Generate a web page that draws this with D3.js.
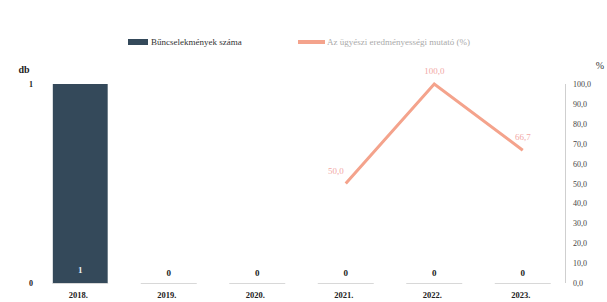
<!DOCTYPE html>
<html>
<head>
<meta charset="utf-8">
<script src="https://cdn.jsdelivr.net/npm/d3@7"></script>
<style>
  body { margin: 0; background: #fff; }
  text { font-family: "Liberation Serif", "DejaVu Serif", serif; }
</style>
</head>
<body>
<svg class="chart"></svg>
<script>
const years = ["2018.", "2019.", "2020.", "2021.", "2022.", "2023."];
const crimes = [1, 0, 0, 0, 0, 0];
const ratio = [null, null, null, 50.0, 100.0, 66.7];
const leftTicks = [0, 1];
const rightTicks = [0, 10, 20, 30, 40, 50, 60, 70, 80, 90, 100];
const legendLabels = ["Bűncselekmények száma", "Az ügyészi eredményességi mutató (%)"];

const width = 607, height = 302;
const barColor = "#34495a", lineColor = "#f4a38c";

let chart = d3.select(".chart")
  .attr("width", width)
  .attr("height", height);

let x = d3.scaleBand()
  .domain(years)
  .range([36, 567])
  .paddingInner(0.38)
  .paddingOuter(0.19);

let yLeft = d3.scaleLinear().domain([0, 1]).range([283, 84]);
let yRight = d3.scaleLinear().domain([0, 100]).range([283, 84]);

// baseline segments
chart.append("g").selectAll("line")
  .data(years)
  .enter().append("line")
  .attr("x1", d => x(d) + x.bandwidth() / 2 - 28)
  .attr("x2", d => x(d) + x.bandwidth() / 2 + 28)
  .attr("y1", 283.5).attr("y2", 283.5)
  .attr("stroke", "#d8d8d8");

// right axis line
chart.append("line")
  .attr("x1", 565.5).attr("x2", 565.5)
  .attr("y1", yRight(100)).attr("y2", yRight(0))
  .attr("stroke", "#cfcfcf");

// bars
chart.append("g").selectAll("rect")
  .data(crimes)
  .enter().append("rect")
  .attr("x", (d, i) => x(years[i]))
  .attr("width", x.bandwidth())
  .attr("y", d => yLeft(d))
  .attr("height", d => yLeft(0) - yLeft(d))
  .attr("fill", barColor);

// bar value labels
chart.append("g").selectAll("text")
  .data(crimes)
  .enter().append("text")
  .attr("x", (d, i) => x(years[i]) + x.bandwidth() / 2)
  .attr("y", d => d > 0 ? yLeft(0) - 10 : yLeft(0) - 7)
  .attr("text-anchor", "middle")
  .attr("font-size", 9)
  .attr("font-weight", "bold")
  .attr("fill", d => d > 0 ? "#e8eef2" : "#222")
  .text(d => d);

// line
let line = d3.line()
  .defined(d => d != null)
  .x((d, i) => x(years[i]) + x.bandwidth() / 2)
  .y(d => yRight(d));

chart.append("path")
  .datum(ratio)
  .attr("d", line)
  .attr("fill", "none")
  .attr("stroke", lineColor)
  .attr("stroke-width", 3);

chart.append("g").selectAll("text")
  .data(ratio.map((v, i) => ({v, i})).filter(d => d.v != null))
  .enter().append("text")
  .attr("x", d => x(years[d.i]) + x.bandwidth() / 2 + (d.i === 3 ? -10 : 0))
  .attr("y", d => yRight(d.v) - 10)
  .attr("text-anchor", "middle")
  .attr("font-size", 9)
  .attr("fill", "#f2a9a6")
  .text(d => d3.format(".1f")(d.v).replace(".", ","));

// left axis
chart.append("g").selectAll("text")
  .data(leftTicks)
  .enter().append("text")
  .attr("x", 31)
  .attr("y", d => yLeft(d) + 3)
  .attr("text-anchor", "middle")
  .attr("font-size", 8)
  .attr("font-weight", "bold")
  .attr("fill", "#222")
  .text(d => d);

chart.append("text")
  .attr("x", 24).attr("y", 73)
  .attr("text-anchor", "middle")
  .attr("font-size", 10)
  .attr("font-weight", "bold")
  .attr("fill", "#222")
  .text("db");

// right axis
chart.append("g").selectAll("text")
  .data(rightTicks)
  .enter().append("text")
  .attr("x", 573)
  .attr("y", d => yRight(d) + 3)
  .attr("font-size", 8)
  .attr("fill", "#444")
  .text(d => d3.format(".1f")(d).replace(".", ","));

chart.append("text")
  .attr("x", 600).attr("y", 69)
  .attr("text-anchor", "middle")
  .attr("font-size", 10)
  .attr("fill", "#333")
  .text("%");

// x axis labels
chart.append("g").selectAll("text")
  .data(years)
  .enter().append("text")
  .attr("x", d => x(d) + x.bandwidth() / 2 - 2)
  .attr("y", 298)
  .attr("text-anchor", "middle")
  .attr("font-size", 8.5)
  .attr("font-weight", "bold")
  .attr("fill", "#222")
  .text(d => d);

// legend
let legend = chart.append("g");
legend.append("rect")
  .attr("x", 128).attr("y", 39).attr("width", 20).attr("height", 6)
  .attr("fill", barColor);
legend.append("text")
  .attr("x", 151).attr("y", 45)
  .attr("font-size", 9)
  .attr("fill", "#333")
  .text(legendLabels[0]);
legend.append("line")
  .attr("x1", 298).attr("x2", 325).attr("y1", 42).attr("y2", 42)
  .attr("stroke", lineColor).attr("stroke-width", 4);
legend.append("text")
  .attr("x", 327).attr("y", 45)
  .attr("font-size", 9)
  .attr("fill", "#aaa")
  .text(legendLabels[1]);
</script>
</body>
</html>
